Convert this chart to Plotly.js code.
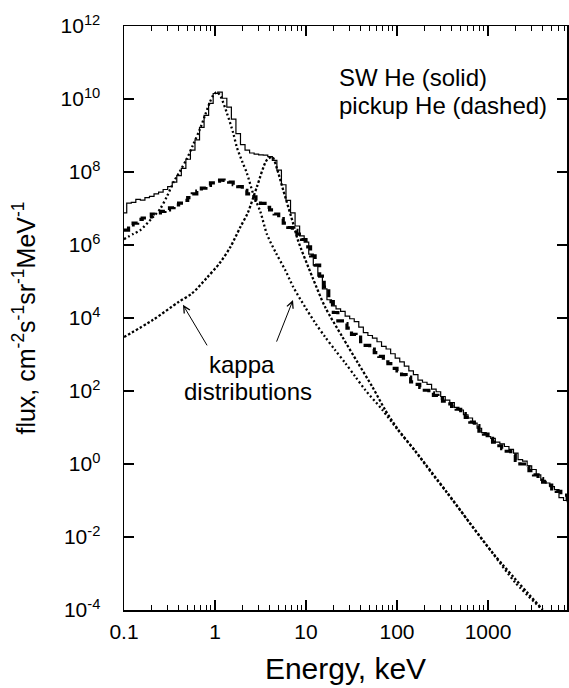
<!DOCTYPE html>
<html>
<head>
<meta charset="utf-8">
<script src="https://cdn.plot.ly/plotly-3.0.1.min.js"></script>
<style>html,body{margin:0;padding:0;background:#fff}#chart{width:569px;height:688px}</style>
</head>
<body>
<div id="chart"></div>
<script>
// ---- data (stored as log10 values) ----
// SW He (solid step histogram)
var swLogE = [-1.00,-0.97,-0.92,-0.87,-0.82,-0.77,-0.72,-0.67,-0.62,-0.57,-0.52,-0.47,-0.42,-0.37,-0.32,-0.27,-0.22,-0.17,-0.12,-0.07,
  -0.02,0.03,0.08,0.13,0.18,0.23,0.28,0.33,0.38,0.43,0.48,0.53,0.58,0.63,0.68,0.73,0.78,0.83,0.88,0.93,
  0.98,1.03,1.08,1.13,1.18,1.23,1.28,1.33,1.38,1.43,1.48,1.53,1.58,1.63,1.68,1.73,1.78,1.83,1.88,1.93,
  1.98,2.03,2.08,2.13,2.18,2.23,2.28,2.33,2.38,2.43,2.48,2.53,2.58,2.63,2.68,2.73,2.78,2.83,2.88,2.93,
  2.98,3.03,3.08,3.13,3.18,3.23,3.28,3.33,3.38,3.43,3.48,3.53,3.58,3.63,3.68,3.73,3.78,3.83,3.87];
var swLogF = [6.88,7.15,7.17,7.25,7.23,7.30,7.33,7.40,7.45,7.52,7.60,7.72,7.90,8.10,8.35,8.60,8.88,9.22,9.55,9.88,
  10.15,10.19,10.02,9.78,9.45,9.05,8.75,8.60,8.52,8.49,8.47,8.46,8.42,8.32,8.05,7.65,7.22,6.88,6.52,6.25,
  6.08,5.75,5.45,5.15,4.80,4.50,4.33,4.25,4.18,4.05,3.98,3.90,3.75,3.60,3.52,3.45,3.35,3.22,3.15,3.02,
  2.90,2.80,2.68,2.55,2.45,2.30,2.24,2.18,2.05,1.98,1.85,1.75,1.68,1.55,1.48,1.35,1.26,1.12,0.98,0.86,
  0.75,0.70,0.60,0.55,0.48,0.40,0.30,0.12,0.08,-0.05,-0.15,-0.30,-0.45,-0.52,-0.62,-0.70,-0.92,-1.00,-1.05];

// pickup He (dashed step histogram)
var pkLogE = [-1.00,-0.95,-0.90,-0.85,-0.80,-0.75,-0.70,-0.65,-0.60,-0.55,-0.50,-0.45,-0.40,-0.35,-0.30,-0.25,-0.20,-0.15,-0.10,-0.05,
  0.00,0.05,0.10,0.15,0.20,0.25,0.30,0.35,0.40,0.45,0.50,0.55,0.60,0.65,0.70,0.75,0.80,0.85,0.90,0.95,
  1.00,1.05,1.10,1.15,1.20,1.25,1.30,1.35,1.40,1.45,1.50,1.55,1.60,1.65,1.70,1.75,1.80,1.85,1.90,1.95,
  2.00,2.05,2.10,2.15,2.20,2.25,2.30,2.35,2.40,2.45,2.50,2.55,2.60,2.65,2.70,2.75,2.80,2.85,2.90,2.95,
  3.00,3.05,3.10,3.15,3.20,3.25,3.30,3.35,3.40,3.45,3.50,3.55,3.60,3.65,3.70,3.75,3.80,3.87];
var pkLogF = [6.41,6.55,6.60,6.70,6.74,6.77,6.85,6.88,6.92,6.96,7.02,7.10,7.15,7.22,7.30,7.40,7.48,7.56,7.63,7.70,
  7.75,7.78,7.77,7.72,7.65,7.60,7.50,7.40,7.32,7.22,7.14,7.03,6.96,6.85,6.72,6.60,6.48,6.40,6.30,6.15,
  5.95,5.70,5.45,5.15,4.85,4.45,4.15,3.92,3.85,3.72,3.55,3.48,3.35,3.25,3.15,3.05,2.95,2.80,2.75,2.62,
  2.55,2.45,2.38,2.25,2.18,2.10,2.02,1.95,1.88,1.80,1.72,1.65,1.58,1.50,1.38,1.28,1.15,1.05,0.90,0.82,
  0.70,0.60,0.50,0.42,0.35,0.25,0.10,0.00,-0.08,-0.18,-0.30,-0.40,-0.50,-0.58,-0.68,-0.75,-0.85,-1.05];

// kappa distribution peaked near 1 keV (dotted)
var k1LogE = [-1.00,-0.90,-0.82,-0.68,-0.60,-0.53,-0.45,-0.39,-0.31,-0.24,-0.17,-0.11,-0.06,-0.02,0.02,0.06,0.13,0.20,0.24,0.30,
  0.35,0.42,0.50,0.57,0.67,0.77,0.86,0.99,1.10,1.21,1.32,1.43,1.54,1.65,1.84,2.01,2.20,2.38,2.55,2.80,3.05,3.30,3.60];
var k1LogF = [6.16,6.30,6.41,6.77,7.00,7.32,7.75,8.00,8.36,8.75,9.15,9.55,9.89,10.10,10.19,10.08,9.62,9.07,8.68,8.28,
  7.97,7.40,6.90,6.30,5.78,5.32,4.85,4.30,3.87,3.48,3.12,2.77,2.40,2.03,1.48,0.93,0.35,-0.25,-0.79,-1.62,-2.44,-3.25,-4.00];

// kappa distribution peaked near 4 keV (dotted)
var k2LogE = [-1.00,-0.68,-0.40,-0.25,-0.09,0.05,0.17,0.28,0.36,0.46,0.57,0.63,0.68,0.75,0.86,0.91,1.07,1.21,1.40,1.57,
  1.73,1.87,2.01,2.20,2.55,3.05,3.60];
var k2LogF = [3.48,3.95,4.44,4.68,5.10,5.50,5.95,6.50,6.88,7.59,8.33,8.41,8.10,7.50,6.58,6.14,5.12,4.30,3.48,2.77,
  2.11,1.48,0.95,0.36,-0.78,-2.43,-3.99];

// axis ticks
var xTickVals = [0.1, 1, 10, 100, 1000];
var xTickText = ['0.1', '1', '10', '100', '1000'];
var yTickExp = [-4, -2, 0, 2, 4, 6, 8, 10, 12];

// ---- build ----
function pow10(a) { return a.map(function (v) { return Math.pow(10, v); }); }
var yTickVals = pow10(yTickExp);
var yTickText = yTickExp.map(function (p) { return '10<sup>' + (p < 0 ? '-' + (-p) : p) + '</sup>'; });

var FONT = 'Liberation Sans, Arial, Helvetica, sans-serif';

var traces = [
  {x: pow10(swLogE), y: pow10(swLogF), mode: 'lines', name: 'SW He (solid)',
   line: {shape: 'hv', color: '#000', width: 1.2}},
  {x: pow10(pkLogE), y: pow10(pkLogF), mode: 'lines', name: 'pickup He (dashed)',
   line: {shape: 'hv', color: '#000', width: 3.2, dash: '8px,5px'}},
  {x: pow10(k1LogE), y: pow10(k1LogF), mode: 'lines', name: 'kappa distribution 1',
   line: {shape: 'spline', smoothing: 0.8, color: '#000', width: 2.3, dash: '2px,2.5px'}},
  {x: pow10(k2LogE), y: pow10(k2LogF), mode: 'lines', name: 'kappa distribution 2',
   line: {shape: 'spline', smoothing: 0.8, color: '#000', width: 2.3, dash: '2.5px,2px'}}
];

var layout = {
  width: 569, height: 688,
  margin: {l: 124, r: 2, t: 26, b: 78},
  paper_bgcolor: '#fff', plot_bgcolor: '#fff',
  showlegend: false,
  font: {family: FONT, color: '#000'},
  xaxis: {
    type: 'log', range: [-1, 3.868],
    tickmode: 'array', tickvals: xTickVals, ticktext: xTickText,
    ticks: 'inside', ticklen: 10, tickwidth: 1.5, tickcolor: '#000',
    minor: {ticks: 'inside', ticklen: 5, tickwidth: 1, tickcolor: '#000', dtick: 'D1', showgrid: false},
    showline: true, linecolor: '#000', linewidth: 1.5, mirror: 'ticks',
    showgrid: false, zeroline: false,
    tickfont: {family: FONT, size: 21, color: '#000'},
    ticklabelstandoff: 2,
    title: {text: 'Energy, keV', font: {family: FONT, size: 30, color: '#000'}, standoff: 16}
  },
  yaxis: {
    type: 'log', range: [-4, 12],
    tickmode: 'array', tickvals: yTickVals, ticktext: yTickText,
    ticks: 'inside', ticklen: 10, tickwidth: 1.5, tickcolor: '#000',
    showline: true, linecolor: '#000', linewidth: 1.5, mirror: 'ticks',
    showgrid: false, zeroline: false,
    tickfont: {family: FONT, size: 21, color: '#000'},
    ticklabelstandoff: 18,
    title: {text: 'flux, cm<sup>-2</sup>s<sup>-1</sup>sr<sup>-1</sup>MeV<sup>-1</sup>', font: {family: FONT, size: 25, color: '#000'}, standoff: 18}
  },
  annotations: [
    {xref: 'paper', yref: 'paper', x: 0.4808, y: 0.911, xanchor: 'left', yanchor: 'middle',
     showarrow: false, text: 'SW He (solid)', font: {family: FONT, size: 24, color: '#000'}},
    {xref: 'paper', yref: 'paper', x: 0.4808, y: 0.8647, xanchor: 'left', yanchor: 'middle',
     showarrow: false, text: 'pickup He (dashed)', font: {family: FONT, size: 24, color: '#000'}},
    {xref: 'paper', yref: 'paper', x: 0.2664, y: 0.4212, xanchor: 'center', yanchor: 'middle',
     showarrow: false, text: 'kappa', font: {family: FONT, size: 24, color: '#000'}},
    {xref: 'paper', yref: 'paper', x: 0.2799, y: 0.3750, xanchor: 'center', yanchor: 'middle',
     showarrow: false, text: 'distributions', font: {family: FONT, size: 24, color: '#000'}},
    {xref: 'x', yref: 'y', x: -0.352, y: 4.36, text: '', showarrow: true,
     ax: 25, ay: 42, arrowhead: 5, arrowsize: 1.3, arrowwidth: 1, arrowcolor: '#000'},
    {xref: 'x', yref: 'y', x: 0.857, y: 4.49, text: '', showarrow: true,
     ax: -17, ay: 43, arrowhead: 5, arrowsize: 1.3, arrowwidth: 1, arrowcolor: '#000'}
  ]
};

Plotly.newPlot('chart', traces, layout, {displayModeBar: false, staticPlot: true});
</script>
</body>
</html>
